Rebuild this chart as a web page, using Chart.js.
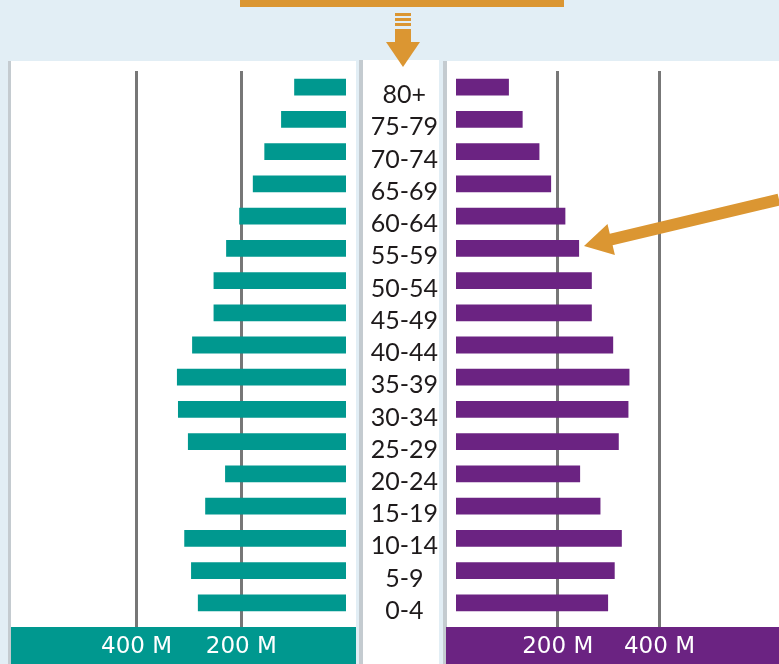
<!DOCTYPE html>
<html>
<head>
<meta charset="utf-8">
<script src="https://cdn.jsdelivr.net/npm/chart.js@4.4.1/dist/chart.umd.min.js"></script>
<style>
  body { margin: 0; width: 779px; height: 664px; background: #e2eef5; position: relative; overflow: hidden; }
  .panel { position: absolute; background: #fff; bottom: 0; }
  #leftPanel { left: 8px; top: 61px; width: 348px; border-left: 3px solid #c4cbd0; box-sizing: border-box; }
  #midPanel { left: 359px; top: 60px; width: 80px; border-left: 4px solid #c4cbd0; box-sizing: border-box; }
  #rightPanel { left: 443px; top: 61px; right: 0; border-left: 4px solid #c4cbd0; box-sizing: border-box; }
  canvas { position: absolute; }
  #maleChart { left: 11px; top: 61px; }
  #femaleChart { left: 363px; top: 61px; }
  #topBar { position: absolute; left: 240px; top: 0; width: 324px; height: 7px; background: #db9632; }
  svg { position: absolute; left: 0; top: 0; }
</style>
</head>
<body>
<div class="panel" id="leftPanel"></div>
<div class="panel" id="midPanel"></div>
<div class="panel" id="rightPanel"></div>
<div id="topBar"></div>
<canvas id="maleChart" width="345" height="603"></canvas>
<canvas id="femaleChart" width="416" height="603"></canvas>
<svg width="779" height="664">
  <g fill="#db9632">
    <rect x="395" y="13" width="16" height="3"/>
    <rect x="395" y="18" width="16" height="3"/>
    <rect x="395" y="23" width="16" height="3"/>
    <rect x="395" y="29" width="16" height="14"/>
    <polygon points="386,42 420,42 403,67"/>
    <polygon points="584,246 607.5,223.9 609.8,233.7 777.6,193.7 780.4,205.3 612.6,245.3 614.9,255.1"/>
  </g>
</svg>
<script>
const ageGroups = ['80+', '75-79', '70-74', '65-69', '60-64', '55-59', '50-54', '45-49', '40-44',
  '35-39', '30-34', '25-29', '20-24', '15-19', '10-14', '5-9', '0-4']
// millions
const males = [99, 124, 156, 178, 204, 229, 253, 253, 294, 323, 321, 302, 231, 269, 309, 296, 283]
const females = [104, 131, 164, 187, 215, 242, 267, 267, 309, 341, 339, 320, 244, 284, 326, 312, 299]
const axisTicks = [200, 400]

const teal = '#00988f'
const purple = '#6b2382'
const gridGray = '#777777'
Chart.defaults.font.family = "'DejaVu Sans', sans-serif"

// coloured strip under the x axis, labels sit on it
const bandPlugin = (color, fromX) => ({
  id: 'axisBand',
  beforeDraw(chart) {
    const {ctx, chartArea, width, height} = chart
    ctx.save()
    ctx.fillStyle = color
    ctx.fillRect(fromX, chartArea.bottom + 8, width - fromX, height - chartArea.bottom - 8)
    ctx.restore()
  }
})

const xAxis = (max, reverse) => ({
  type: 'linear',
  min: 0,
  max: max,
  reverse: reverse,
  afterBuildTicks: s => { s.ticks = axisTicks.map(v => ({value: v})) },
  afterFit: s => { s.paddingLeft = 0; s.paddingRight = 0; s.height = 45 },
  border: { display: false },
  grid: { color: gridGray, lineWidth: 3, drawTicks: true, tickLength: 8, tickColor: gridGray },
  ticks: {
    color: '#ffffff',
    font: { size: 23 },
    padding: 6,
    autoSkip: false,
    maxRotation: 0,
    callback: v => v + ' M'
  }
})

const maleChart = new Chart(document.getElementById('maleChart'), {
  type: 'bar',
  data: {
    labels: ageGroups,
    datasets: [{
      label: 'Male',
      data: males,
      backgroundColor: teal,
      barPercentage: 0.52,
      categoryPercentage: 1
    }]
  },
  options: {
    indexAxis: 'y',
    responsive: false,
    animation: false,
    layout: { padding: { top: 10, bottom: 0, right: 10, left: 0 } },
    scales: {
      x: xAxis(640, true),
      y: { display: false }
    },
    plugins: { legend: { display: false }, tooltip: { enabled: false } }
  },
  plugins: [bandPlugin(teal, 0)]
})

const femaleChart = new Chart(document.getElementById('femaleChart'), {
  type: 'bar',
  data: {
    labels: ageGroups,
    datasets: [{
      label: 'Female',
      data: females,
      backgroundColor: purple,
      barPercentage: 0.52,
      categoryPercentage: 1
    }]
  },
  options: {
    indexAxis: 'y',
    responsive: false,
    animation: false,
    layout: { padding: { top: 10, bottom: 0, right: 0, left: 0 } },
    scales: {
      x: xAxis(635, false),
      y: {
        afterFit: s => { s.width = 93; s.paddingTop = 0; s.paddingBottom = 0 },
        border: { display: false },
        grid: { display: false, drawTicks: false },
        ticks: {
          color: '#1e1a1b',
          font: { family: 'Lato', size: 25 },
          crossAlign: 'center',
          padding: 18,
          labelOffset: 8,
          autoSkip: false
        }
      }
    },
    plugins: { legend: { display: false }, tooltip: { enabled: false } }
  },
  plugins: [bandPlugin(purple, 83)]
})
</script>
</body>
</html>
